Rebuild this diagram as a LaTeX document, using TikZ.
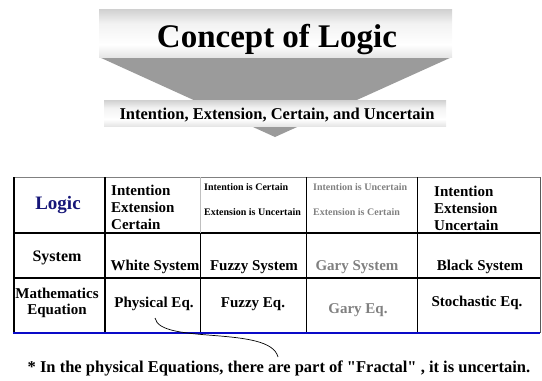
\documentclass[tikz,border=0pt]{standalone}
\usepackage{fontspec}
\setmainfont{Liberation Serif}[Ligatures=TeXOff]
\definecolor{logicblue}{RGB}{22,22,120}
\definecolor{gtext}{RGB}{128,128,128}
\definecolor{tri}{RGB}{155,155,155}
\definecolor{botblue}{RGB}{10,10,200}
\pgfdeclareverticalshading{barshade}{100bp}{color(0bp)=(gray!80); color(15bp)=(gray!35); color(38bp)=(white); color(60bp)=(gray!10); color(85bp)=(gray!55); color(100bp)=(gray!85)}
\begin{document}
\begin{tikzpicture}[x=1pt,y=-1pt,
  bar/.style={shading=barshade},
  t/.style={inner sep=0pt, font=\fontsize{15}{17}\selectfont\bfseries},
  ts/.style={inner sep=0pt, font=\fontsize{10}{12}\selectfont\bfseries},
  thick line/.style={line width=2.2pt},
  thin line/.style={line width=0.8pt}]
\useasboundingbox (0,0) rectangle (542,381);
% banner
\fill[tri] (99,57) -- (452,57) -- (275,137) -- cycle;
\shade[bar] (99,9) rectangle (452,57);
\shade[bar] (104,100) rectangle (446,126);
\node[inner sep=0pt, anchor=base, font=\fontsize{33}{36}\selectfont\bfseries] (title) at (277,47) {Concept of Logic};
\node[inner sep=0pt, anchor=base, font=\fontsize{16.5}{18}\selectfont\bfseries] (sub) at (277,119) {Intention, Extension, Certain, and Uncertain};
% table lines
\draw[gray, line width=1pt] (14,177) -- (540,177);
\draw[gray!70!black, thin line] (540,177) -- (540,333);
\draw[thick line] (14,233) -- (540,233);
\draw[thick line] (14,278) -- (540,278);
\draw[line width=1.5pt] (105,177) -- (105,333);
\draw[gray!50, thin line] (200,177) -- (200,233);
\draw[thin line] (200,233) -- (200,333);
\draw[thin line] (306,177) -- (306,333);
\draw[thin line] (417,177) -- (417,333);
\draw[line width=2pt] (14,177) -- (14,334);
\draw[botblue, line width=2pt] (13,333) -- (540,333);
% row 1
\node[inner sep=0pt, anchor=base, text=logicblue, font=\fontsize{19}{21}\selectfont\bfseries] (logic) at (58,209) {Logic};
\node[t, anchor=base west] (c2a) at (111,195) {Intention};
\node[t, anchor=base west] (c2b) at (111,212) {Extension};
\node[t, anchor=base west] (c2c) at (111,229) {Certain};
\node[ts, anchor=base west] (c3a) at (204,190) {Intention is Certain};
\node[ts, anchor=base west] (c3b) at (204,215) {Extension is Uncertain};
\node[ts, anchor=base west, text=gtext] (c4a) at (313,190) {Intention is Uncertain};
\node[ts, anchor=base west, text=gtext] (c4b) at (313,215) {Extension is Certain};
\node[t, anchor=base west] (c5a) at (434,196) {Intention};
\node[t, anchor=base west] (c5b) at (434,213) {Extension};
\node[t, anchor=base west] (c5c) at (434,230) {Uncertain};
% row 2
\node[t, anchor=base, font=\fontsize{16}{18}\selectfont\bfseries] (sys) at (57,261) {System};
\node[t, anchor=base] (white) at (155,270) {White System};
\node[t, anchor=base] (fuzzy) at (254,270) {Fuzzy System};
\node[t, anchor=base, text=gtext] (gary) at (357,270) {Gary System};
\node[t, anchor=base] (black) at (480,270) {Black System};
% row 3
\node[t, anchor=base] (math) at (57,298) {Mathematics};
\node[t, anchor=base] (eqn) at (57,314) {Equation};
\node[t, anchor=base] (phys) at (154,307) {Physical Eq.};
\node[t, anchor=base] (feq) at (253,307) {Fuzzy Eq.};
\node[t, anchor=base, text=gtext] (geq) at (358,313) {Gary Eq.};
\node[t, anchor=base] (seq) at (477,306) {Stochastic Eq.};
% note
\node[t, anchor=base, font=\fontsize{16.5}{18}\selectfont\bfseries] (note) at (279,372) {* In the physical Equations, there are part of "Fractal" , it is uncertain.};
\coordinate (cs) at (155,318);
\coordinate (ce) at (278,357);
\draw[line width=0.7pt] (cs) .. controls (160,345) and (270,325) .. (ce);
\end{tikzpicture}
\end{document}
